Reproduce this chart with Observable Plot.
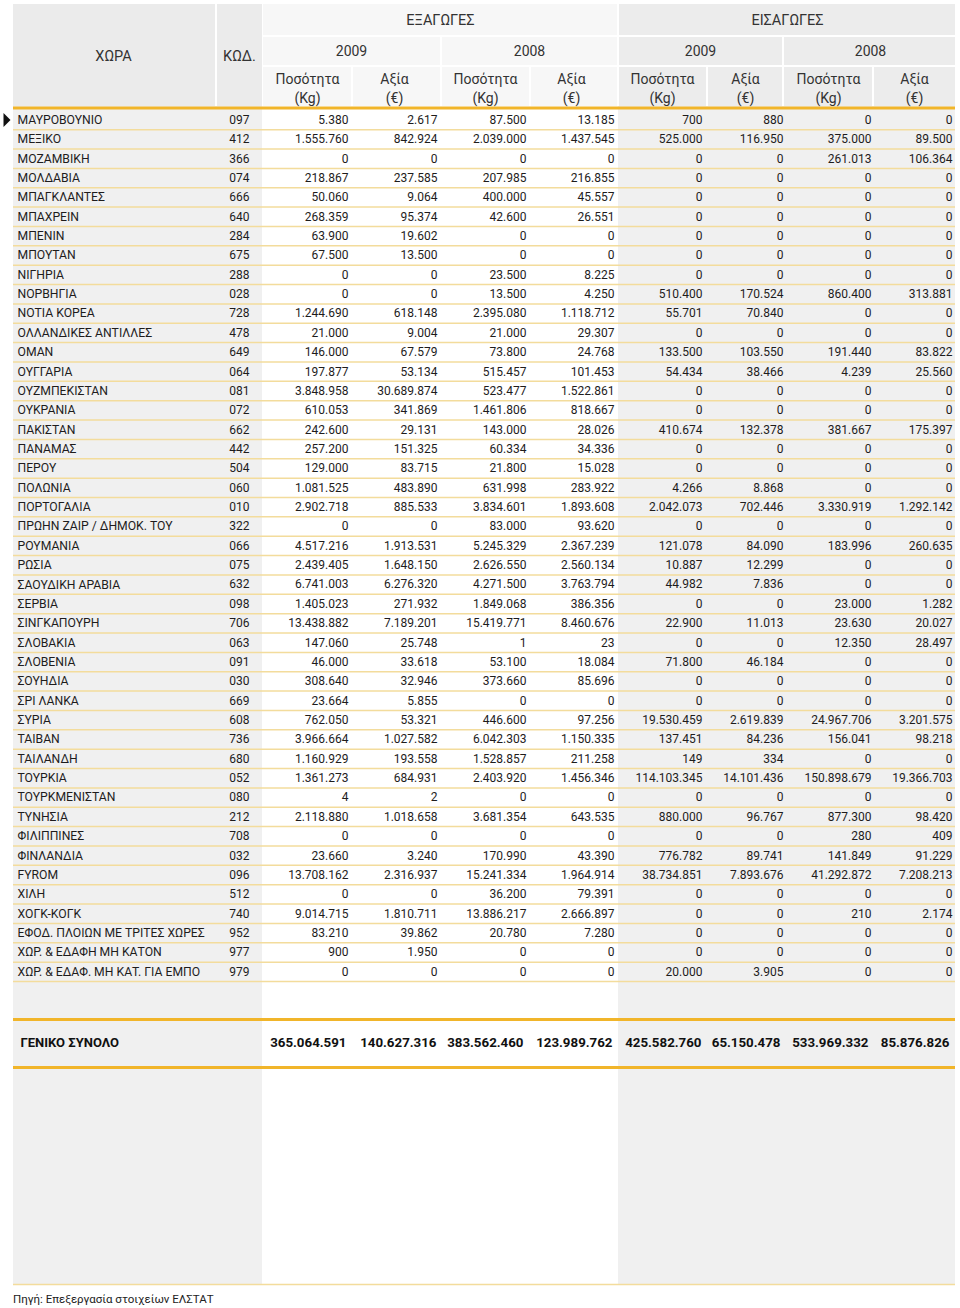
<!DOCTYPE html>
<html><head><meta charset="utf-8">
<script src="https://cdn.jsdelivr.net/npm/d3@7"></script>
<script src="https://cdn.jsdelivr.net/npm/@observablehq/plot@0.6"></script>
<style>
body{margin:0;background:#fff;font-family:Roboto,sans-serif;}
#chart svg{display:block;}
#caption{font-size:11.5px;color:#222;margin:0 0 0 13px;height:18px;line-height:18px;}
</style></head><body>
<div id="chart"></div>
<div id="caption">Πηγή: Επεξεργασία στοιχείων ΕΛΣΤΑΤ</div>
<script>
// ---------- DATA ----------
const countries = ["ΜΑΥΡΟΒΟΥΝΙΟ","ΜΕΞΙΚΟ","ΜΟΖΑΜΒΙΚΗ","ΜΟΛΔΑΒΙΑ","ΜΠΑΓΚΛΑΝΤΕΣ","ΜΠΑΧΡΕΙΝ","ΜΠΕΝΙΝ","ΜΠΟΥΤΑΝ","ΝΙΓΗΡΙΑ","ΝΟΡΒΗΓΙΑ","ΝΟΤΙΑ ΚΟΡΕΑ","ΟΛΛΑΝΔΙΚΕΣ ΑΝΤΙΛΛΕΣ","ΟΜΑΝ","ΟΥΓΓΑΡΙΑ","ΟΥΖΜΠΕΚΙΣΤΑΝ","ΟΥΚΡΑΝΙΑ","ΠΑΚΙΣΤΑΝ","ΠΑΝΑΜΑΣ","ΠΕΡΟΥ","ΠΟΛΩΝΙΑ","ΠΟΡΤΟΓΑΛΙΑ","ΠΡΩΗΝ ΖΑΙΡ / ΔΗΜΟΚ. ΤΟΥ","ΡΟΥΜΑΝΙΑ","ΡΩΣΙΑ","ΣΑΟΥΔΙΚΗ ΑΡΑΒΙΑ","ΣΕΡΒΙΑ","ΣΙΝΓΚΑΠΟΥΡΗ","ΣΛΟΒΑΚΙΑ","ΣΛΟΒΕΝΙΑ","ΣΟΥΗΔΙΑ","ΣΡΙ ΛΑΝΚΑ","ΣΥΡΙΑ","ΤΑΙΒΑΝ","ΤΑΙΛΑΝΔΗ","ΤΟΥΡΚΙΑ","ΤΟΥΡΚΜΕΝΙΣΤΑΝ","ΤΥΝΗΣΙΑ","ΦΙΛΙΠΠΙΝΕΣ","ΦΙΝΛΑΝΔΙΑ","FYROM","ΧΙΛΗ","ΧΟΓΚ-ΚΟΓΚ","ΕΦΟΔ. ΠΛΟΙΩΝ ΜΕ ΤΡΙΤΕΣ ΧΩΡΕΣ","ΧΩΡ. & ΕΔΑΦΗ ΜΗ ΚΑΤΟΝ","ΧΩΡ. & ΕΔΑΦ. ΜΗ ΚΑΤ. ΓΙΑ ΕΜΠΟ"];
const codes = ["097","412","366","074","666","640","284","675","288","028","728","478","649","064","081","072","662","442","504","060","010","322","066","075","632","098","706","063","091","030","669","608","736","680","052","080","212","708","032","096","512","740","952","977","979"];
const exp2009Qty = [5380,1555760,0,218867,50060,268359,63900,67500,0,0,1244690,21000,146000,197877,3848958,610053,242600,257200,129000,1081525,2902718,0,4517216,2439405,6741003,1405023,13438882,147060,46000,308640,23664,762050,3966664,1160929,1361273,4,2118880,0,23660,13708162,0,9014715,83210,900,0];
const exp2009Val = [2617,842924,0,237585,9064,95374,19602,13500,0,0,618148,9004,67579,53134,30689874,341869,29131,151325,83715,483890,885533,0,1913531,1648150,6276320,271932,7189201,25748,33618,32946,5855,53321,1027582,193558,684931,2,1018658,0,3240,2316937,0,1810711,39862,1950,0];
const exp2008Qty = [87500,2039000,0,207985,400000,42600,0,0,23500,13500,2395080,21000,73800,515457,523477,1461806,143000,60334,21800,631998,3834601,83000,5245329,2626550,4271500,1849068,15419771,1,53100,373660,0,446600,6042303,1528857,2403920,0,3681354,0,170990,15241334,36200,13886217,20780,0,0];
const exp2008Val = [13185,1437545,0,216855,45557,26551,0,0,8225,4250,1118712,29307,24768,101453,1522861,818667,28026,34336,15028,283922,1893608,93620,2367239,2560134,3763794,386356,8460676,23,18084,85696,0,97256,1150335,211258,1456346,0,643535,0,43390,1964914,79391,2666897,7280,0,0];
const imp2009Qty = [700,525000,0,0,0,0,0,0,0,510400,55701,0,133500,54434,0,0,410674,0,0,4266,2042073,0,121078,10887,44982,0,22900,0,71800,0,0,19530459,137451,149,114103345,0,880000,0,776782,38734851,0,0,0,0,20000];
const imp2009Val = [880,116950,0,0,0,0,0,0,0,170524,70840,0,103550,38466,0,0,132378,0,0,8868,702446,0,84090,12299,7836,0,11013,0,46184,0,0,2619839,84236,334,14101436,0,96767,0,89741,7893676,0,0,0,0,3905];
const imp2008Qty = [0,375000,261013,0,0,0,0,0,0,860400,0,0,191440,4239,0,0,381667,0,0,0,3330919,0,183996,0,0,23000,23630,12350,0,0,0,24967706,156041,0,150898679,0,877300,280,141849,41292872,0,210,0,0,0];
const imp2008Val = [0,89500,106364,0,0,0,0,0,0,313881,0,0,83822,25560,0,0,175397,0,0,0,1292142,0,260635,0,0,1282,20027,28497,0,0,0,3201575,98218,0,19366703,0,98420,409,91229,7208213,0,2174,0,0,0];
const totals = [365064591,140627316,383562460,123989762,425582760,65150478,533969332,85876826];
const totalLabel = "ΓΕΝΙΚΟ ΣΥΝΟΛΟ";
const groupLabels = ["ΕΞΑΓΩΓΕΣ","ΕΙΣΑΓΩΓΕΣ"];
const yearLabels = ["2009","2008","2009","2008"];
const measureLabels = ["Ποσότητα\n(Kg)","Αξία\n(€)","Ποσότητα\n(Kg)","Αξία\n(€)","Ποσότητα\n(Kg)","Αξία\n(€)","Ποσότητα\n(Kg)","Αξία\n(€)"];
const countryHeader = "ΧΩΡΑ";
const codeHeader = "ΚΩΔ.";

// ---------- LAYOUT ----------
const L = {
  left: 13, right: 955,
  nameX: 17, codeRight: 249,
  valueRight: [348, 437, 526, 614, 702, 783, 871, 952],
  totalRight: [346, 436, 523, 612, 701, 780, 868, 949],
  measureCenter: [307, 394, 485, 571, 662, 745, 828, 914],
  yearCenter: [351, 529, 700, 870],
  groupCenter: [440, 787],
  rowTop: 109.8, rowH: 19.36,
  headTop: 4, head1: 35, head2: 65, headBottom: 106,
  totalTopLine: 1019, totalY: 1042, totalBottomLine: 1067,
  bottomLine: 1284
};
const series = [exp2009Qty, exp2009Val, exp2008Qty, exp2008Val, imp2009Qty, imp2009Val, imp2008Qty, imp2008Val];
const rowY = i => L.rowTop + (i + 0.5) * L.rowH;
const nRows = countries.length;

const fmt = d3.formatLocale({decimal: ",", thousands: ".", grouping: [3], currency: ["", "€"]}).format(",d");

const rows = countries.map((c, i) => ({name: c, code: codes[i], y: rowY(i)}));
const cells = [];
series.forEach((s, j) => s.forEach((v, i) => cells.push({x: L.valueRight[j], y: rowY(i), t: fmt(v)})));
const totalCells = totals.map((v, j) => ({x: L.totalRight[j], y: L.totalY, t: fmt(v)}));

// backgrounds
const grayBody = [
  {x1: L.left, x2: 262, y1: L.headBottom, y2: L.bottomLine},
  {x1: 618, x2: L.right, y1: L.headBottom, y2: L.bottomLine}
];
const headLeft = [
  {x1: L.left, x2: 215, y1: L.headTop, y2: L.headBottom},
  {x1: 217, x2: 262, y1: L.headTop, y2: L.headBottom}
];
const headExp = [
  {x1: 263, x2: 617, y1: L.headTop, y2: L.head1},
  {x1: 263, x2: 440, y1: L.head1 + 2, y2: L.head2},
  {x1: 442, x2: 617, y1: L.head1 + 2, y2: L.head2},
  {x1: 263, x2: 351, y1: L.head2 + 2, y2: L.headBottom},
  {x1: 353, x2: 440, y1: L.head2 + 2, y2: L.headBottom},
  {x1: 442, x2: 529, y1: L.head2 + 2, y2: L.headBottom},
  {x1: 531, x2: 617, y1: L.head2 + 2, y2: L.headBottom}
];
const headImp = [
  {x1: 619, x2: L.right, y1: L.headTop, y2: L.head1},
  {x1: 619, x2: 782, y1: L.head1 + 2, y2: L.head2},
  {x1: 784, x2: L.right, y1: L.head1 + 2, y2: L.head2},
  {x1: 619, x2: 706, y1: L.head2 + 2, y2: L.headBottom},
  {x1: 708, x2: 782, y1: L.head2 + 2, y2: L.headBottom},
  {x1: 784, x2: 872, y1: L.head2 + 2, y2: L.headBottom},
  {x1: 874, x2: L.right, y1: L.head2 + 2, y2: L.headBottom}
];
const rowLines = d3.range(1, nRows + 1).map(i => L.rowTop + i * L.rowH);

const arrow = {draw(ctx) { ctx.moveTo(-3.5, -7); ctx.lineTo(3.5, 0); ctx.lineTo(-3.5, 7); ctx.closePath(); }};

const textColor = "#1e1c1c";
const chart = Plot.plot({
  width: 960, height: 1290, margin: 0,
  x: {domain: [0, 960], range: [0, 960], axis: null},
  y: {domain: [0, 1290], range: [0, 1290], axis: null},
  style: {fontFamily: "Roboto, sans-serif", background: "#fff"},
  marks: [
    Plot.rect(grayBody, {x1: "x1", x2: "x2", y1: "y1", y2: "y2", fill: "#f0f0f0"}),
    Plot.rect(headLeft, {x1: "x1", x2: "x2", y1: "y1", y2: "y2", fill: "#ebebeb"}),
    Plot.rect(headExp, {x1: "x1", x2: "x2", y1: "y1", y2: "y2", fill: "#f7f7f7"}),
    Plot.rect(headImp, {x1: "x1", x2: "x2", y1: "y1", y2: "y2", fill: "#ececec"}),
    Plot.ruleY(rowLines, {x1: L.left, x2: L.right, stroke: "#f3dc9c", strokeWidth: 1.5}),
    Plot.ruleY([L.headBottom + 1.5], {x1: L.left, x2: L.right, stroke: "#f1b52a", strokeWidth: 3}),
    Plot.ruleY([L.totalTopLine, L.totalBottomLine], {x1: L.left, x2: L.right, stroke: "#f1b52a", strokeWidth: 3}),
    Plot.ruleY([L.bottomLine], {x1: L.left, x2: L.right, stroke: "#f3dc9c", strokeWidth: 1.5}),
    // header texts
    Plot.text([countryHeader], {x: () => 113, y: () => 56, text: d => d, fontSize: 14.5, fill: "#333"}),
    Plot.text([codeHeader], {x: () => 239, y: () => 56, text: d => d, fontSize: 14.5, fill: "#333"}),
    Plot.text(groupLabels, {x: (d, i) => L.groupCenter[i], y: () => 20, text: d => d, fontSize: 14.5, fill: "#333"}),
    Plot.text(yearLabels, {x: (d, i) => L.yearCenter[i], y: () => 51, text: d => d, fontSize: 14, fill: "#333"}),
    Plot.text(measureLabels, {x: (d, i) => L.measureCenter[i], y: () => 87, text: d => d, fontSize: 14, lineHeight: 1.33, fill: "#333"}),
    // body
    Plot.dot([rows[0]], {x: () => 6.5, y: "y", symbol: arrow, fill: "#111", stroke: null}),
    Plot.text(rows, {x: () => L.nameX, y: "y", text: "name", textAnchor: "start", fontSize: 12.2, fill: textColor}),
    Plot.text(rows, {x: () => L.codeRight, y: "y", text: "code", textAnchor: "end", fontSize: 12, fill: textColor}),
    Plot.text(cells, {x: "x", y: "y", text: "t", textAnchor: "end", fontSize: 12, fill: textColor}),
    // totals
    Plot.text([totalLabel], {x: () => 20, y: () => L.totalY, text: d => d, textAnchor: "start", fontSize: 13, fontWeight: "bold", fill: "#111"}),
    Plot.text(totalCells, {x: "x", y: "y", text: "t", textAnchor: "end", fontSize: 13.3, fontWeight: "bold", fill: "#111"})
  ]
});
document.getElementById("chart").appendChild(chart);
</script>
</body></html>
